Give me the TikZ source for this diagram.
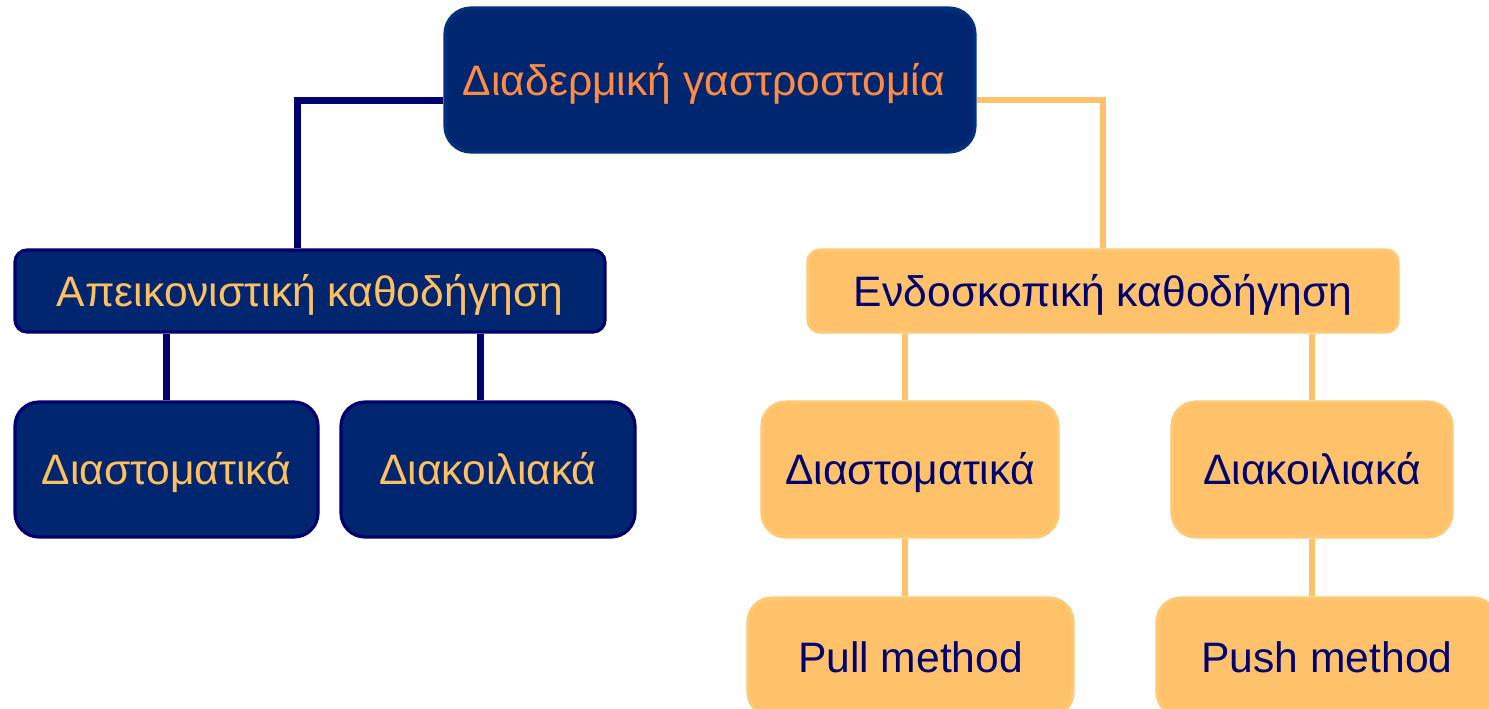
\documentclass[tikz,border=0pt]{standalone}
\usepackage{fontspec}
\setmainfont{Liberation Sans}
\usetikzlibrary{positioning}
\definecolor{navyfill}{RGB}{0,38,112}
\definecolor{navyline}{RGB}{0,0,110}
\definecolor{navyedge}{RGB}{0,48,128}
\definecolor{orangefill}{RGB}{255,194,106}
\definecolor{orangeedge}{RGB}{255,200,115}
\definecolor{textorange}{RGB}{255,140,66}
\definecolor{textlight}{RGB}{255,192,96}
\begin{document}
\begin{tikzpicture}[x=0.5pt, y=-0.5pt,
			navybox/.style={rectangle, rounded corners=12pt, draw=navyline, line width=1.6pt, fill=navyfill, text=textlight, inner sep=0pt, text height=16.6pt, text depth=1.3pt, font=\fontsize{21.3}{26}\selectfont},
			orangebox/.style={rectangle, rounded corners=12pt, draw=orangeedge, line width=1.6pt, fill=orangefill, text=navyline, inner sep=0pt, text height=16.6pt, text depth=1.3pt, font=\fontsize{21.3}{26}\selectfont},
			navylink/.style={draw=navyline, line width=3.5pt},
			orangelink/.style={draw=orangefill, line width=3pt}
		]
			\useasboundingbox (0,0) rectangle (1489,708);
			% Boxes
			\node[navybox, draw=navyedge, text=textorange, rounded corners=13pt, minimum width=265pt, minimum height=72pt] (top) at (710,80) {Διαδερμική γαστροστομία\kern6pt};
			\node[navybox, rounded corners=6pt, minimum width=295pt, minimum height=41pt] (imaging) at (310,291) {Απεικονιστική καθοδήγηση};
			\node[orangebox, rounded corners=6pt, minimum width=295pt, minimum height=41pt] (endo) at (1103,291) {Ενδοσκοπική καθοδήγηση};
			\node[navybox, minimum width=151.5pt, minimum height=67.5pt] (imgmed) at (166.5,469.5) {Διαστοματικά};
			\node[navybox, minimum width=147pt, minimum height=67.5pt] (imgtrans) at (488,469.5) {Διακοιλιακά};
			\node[orangebox, minimum width=148pt, minimum height=67.5pt] (endomed) at (910,469.5) {Διαστοματικά};
			\node[orangebox, minimum width=140pt, minimum height=67.5pt] (endotrans) at (1312,469.5) {Διακοιλιακά};
			\node[orangebox, minimum width=162.5pt, minimum height=59pt] (pull) at (910.5,657) {Pull method};
			\node[orangebox, minimum width=170pt, minimum height=59pt] (push) at (1327,657) {Push method};

			% Lines
			\draw[navylink] ([yshift=-10pt]top.west) -| ([xshift=-6.5pt]imaging.north);
			\draw[orangelink] ([yshift=-10pt]top.east) -| (endo.north);
			\draw[navylink] (imgmed.north |- imaging.south) -- (imgmed.north);
			\draw[navylink] ([xshift=-4pt]imgtrans.north |- imaging.south) -- ([xshift=-4pt]imgtrans.north);
			\draw[orangelink] ([xshift=-2.5pt]endomed.north |- endo.south) -- ([xshift=-2.5pt]endomed.north);
			\draw[orangelink] (endotrans.north |- endo.south) -- (endotrans.north);
			\draw[orangelink] ([xshift=-2.5pt]endomed.south) -- ([xshift=-2.5pt]endomed.south |- pull.north);
			\draw[orangelink] (endotrans.south) -- (endotrans.south |- push.north);
		\end{tikzpicture}
\end{document}
